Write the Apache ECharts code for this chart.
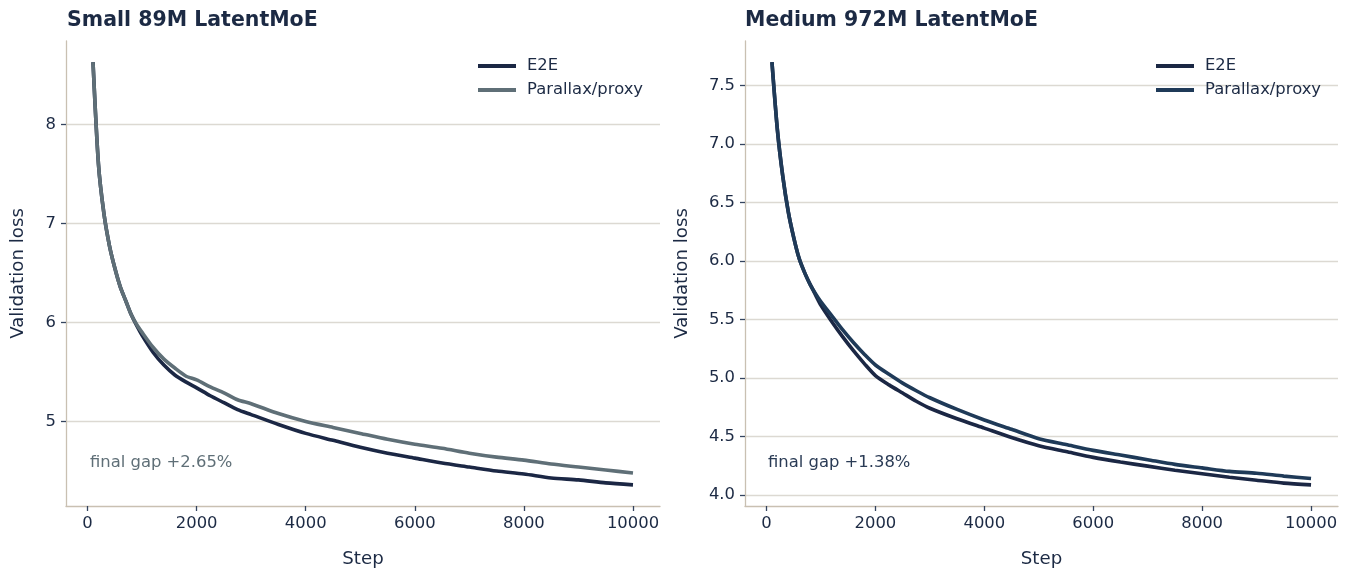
<!DOCTYPE html>
<html>
<head>
<meta charset="utf-8">
<script src="https://cdn.jsdelivr.net/npm/echarts@6/dist/echarts.min.js"></script>
<style>
html,body{margin:0;padding:0;background:#fff;}
#chart{width:1350px;height:574px;}
</style>
</head>
<body>
<div id="chart"></div>
<script>
// ---- data ----
const steps = [100,200,300,400,500,600,700,800,900,1000,1200,1400,1600,1800,2000,2250,2500,2750,3000,3500,4000,4500,5000,5500,6000,6500,7000,7500,8000,8500,9000,9500,10000];
const smallE2E   = [8.63,7.60,7.10,6.78,6.55,6.36,6.22,6.08,5.97,5.87,5.70,5.57,5.47,5.40,5.34,5.26,5.19,5.12,5.07,4.97,4.88,4.81,4.74,4.68,4.63,4.58,4.54,4.50,4.47,4.43,4.41,4.38,4.36];
const smallProxy = [8.63,7.60,7.10,6.78,6.55,6.36,6.22,6.08,5.98,5.90,5.75,5.63,5.54,5.46,5.42,5.35,5.29,5.22,5.18,5.08,5.00,4.94,4.88,4.82,4.77,4.73,4.68,4.64,4.61,4.57,4.54,4.51,4.48];
const medE2E     = [7.70,7.12,6.72,6.42,6.20,6.02,5.90,5.80,5.71,5.62,5.48,5.35,5.23,5.12,5.02,4.94,4.87,4.80,4.74,4.65,4.57,4.49,4.42,4.37,4.32,4.28,4.245,4.21,4.18,4.15,4.125,4.10,4.085];
const medProxy   = [7.70,7.12,6.72,6.42,6.20,6.02,5.90,5.80,5.72,5.65,5.53,5.41,5.30,5.20,5.11,5.03,4.955,4.89,4.83,4.73,4.64,4.56,4.48,4.43,4.38,4.34,4.30,4.26,4.23,4.20,4.185,4.16,4.14];
const xTicks = [0,2000,4000,6000,8000,10000];
const smallYTicks = [5,6,7,8];
const medYTicks = [4.0,4.5,5.0,5.5,6.0,6.5,7.0,7.5];
const titles = ['Small 89M LatentMoE','Medium 972M LatentMoE'];
const gapTexts = ['final gap +2.65%','final gap +1.38%'];
const seriesNames = ['E2E','Parallax/proxy'];

// ---- style ----
const FONT = 'DejaVu Sans';
const INK = '#1c2a44';
const SPINE = '#c9c0b2';
const GRIDC = '#dcd9d2';
const cE2E = '#1b2744';
const cProxySmall = '#5f6f77';
const cProxyMed = '#1f3a58';
const FS = 16.4;

function pair(xs, ys){ return xs.map((x,i)=>[x, ys[i]]); }

function padRange(arr, frac){
  const lo = Math.min(...arr), hi = Math.max(...arr);
  const d = (hi-lo)*frac;
  return [lo-d, hi+d];
}
const xr = padRange(steps, 0.05);
const ySmall = padRange(smallE2E.concat(smallProxy), 0.05);
const yMed = padRange(medE2E.concat(medProxy), 0.05);

function xAxis(idx){
  return {
    type:'value', gridIndex:idx, min:xr[0], max:xr[1],
    name:'Step', nameLocation:'middle', nameGap:44,
    nameTextStyle:{fontFamily:FONT,fontSize:18.2,color:INK},
    axisLine:{show:true,onZero:false,lineStyle:{color:SPINE,width:1.3}},
    axisTick:{show:true,length:5,lineStyle:{color:'#34445e',width:1.3},customValues:xTicks},
    axisLabel:{fontFamily:FONT,fontSize:FS,color:INK,margin:10,customValues:xTicks,formatter:v=>String(Math.round(v))},
    splitLine:{show:false}
  };
}
function yAxis(idx, range, ticks, dec, gap){
  return {
    type:'value', gridIndex:idx, min:range[0], max:range[1],
    name:'Validation loss', nameLocation:'middle', nameGap:gap,
    nameTextStyle:{fontFamily:FONT,fontSize:18.2,color:INK},
    axisLine:{show:true,onZero:false,lineStyle:{color:SPINE,width:1.3}},
    axisTick:{show:true,length:5,lineStyle:{color:'#34445e',width:1.3},customValues:ticks},
    axisLabel:{fontFamily:FONT,fontSize:FS,color:INK,margin:10,customValues:ticks,formatter:v=>v.toFixed(dec)},
    splitLine:{show:true,lineStyle:{color:GRIDC,width:1.3}}
  };
}

function legend(left, proxyColor){
  return {orient:'vertical',left:left,top:52,itemWidth:38,itemHeight:4,itemGap:6,icon:'rect',
    textStyle:{fontFamily:FONT,fontSize:FS,color:INK,lineHeight:18,padding:[0,0,0,6]},
    data:[{name:seriesNames[0],itemStyle:{color:cE2E}},{name:seriesNames[1],itemStyle:{color:proxyColor}}]};
}
function line(name, xi, xs, ys, color){
  return {name:name,type:'line',xAxisIndex:xi,yAxisIndex:xi,data:pair(xs,ys),smooth:0.25,
    showSymbol:false,symbol:'none',lineStyle:{color:color,width:3.6},itemStyle:{color:color}};
}

const option = {
  backgroundColor:'#fff',
  animation:false,
  title:[
    {text:titles[0],left:62,top:5,textStyle:{fontFamily:FONT,fontSize:20.5,fontWeight:'bold',color:INK}},
    {text:titles[1],left:740,top:5,textStyle:{fontFamily:FONT,fontSize:20.5,fontWeight:'bold',color:INK}}
  ],
  grid:[
    {left:66,top:41,width:594,height:465},
    {left:745,top:41,width:593,height:465}
  ],
  xAxis:[xAxis(0),xAxis(1)],
  yAxis:[yAxis(0,ySmall,smallYTicks,0,39),yAxis(1,yMed,medYTicks,1,54)],
  legend:[legend(473,cProxySmall),legend(1151,cProxyMed)],
  graphic:[
    {type:'text',left:90,top:455,style:{text:gapTexts[0],font:FS+'px "DejaVu Sans"',fill:'#5f6f77'}},
    {type:'text',left:768,top:455,style:{text:gapTexts[1],font:FS+'px "DejaVu Sans"',fill:'#2a3b55'}}
  ],
  series:[
    line(seriesNames[0],0,steps,smallE2E,cE2E),
    line(seriesNames[1],0,steps,smallProxy,cProxySmall),
    line(seriesNames[0],1,steps,medE2E,cE2E),
    line(seriesNames[1],1,steps,medProxy,cProxyMed)
  ]
};
echarts.init(document.getElementById('chart'),null,{renderer:'canvas'}).setOption(option);
</script>
</body>
</html>
